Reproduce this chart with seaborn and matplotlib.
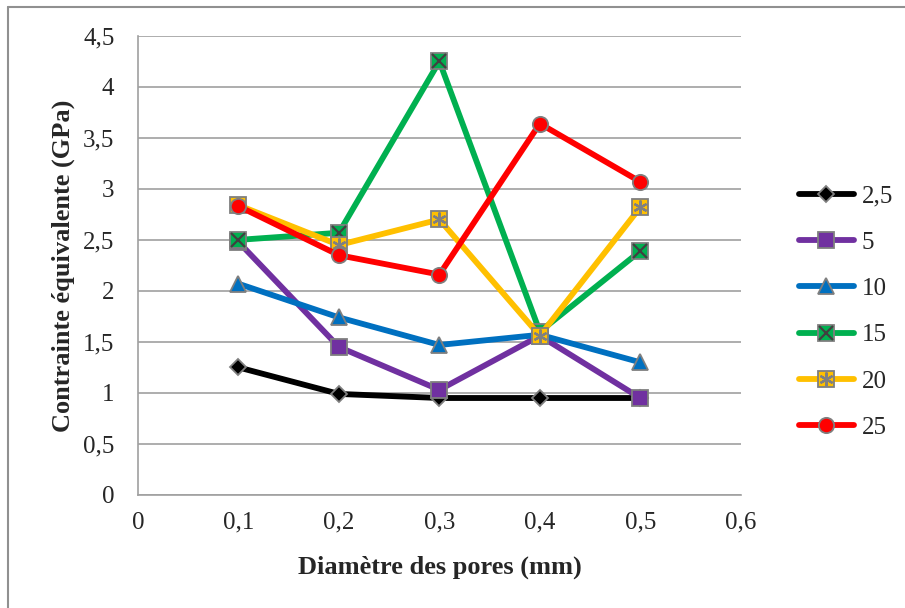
import numpy as np
import pandas as pd
import seaborn as sns
import matplotlib
matplotlib.use("Agg")
import matplotlib.pyplot as plt
from matplotlib.lines import Line2D
from matplotlib.legend_handler import HandlerTuple
from matplotlib.ticker import FuncFormatter

# diametre des pores (mm)
diam = [0.1, 0.2, 0.3, 0.4, 0.5]
series_names = ["2,5", "5", "10", "15", "20", "25"]
s_2_5 = [1.25, 0.99, 0.95, 0.95, 0.95]
s_5 = [2.48, 1.45, 1.03, 1.56, 0.95]
s_10 = [2.07, 1.74, 1.47, 1.57, 1.30]
s_15 = [2.50, 2.57, 4.25, 1.60, 2.39]
s_20 = [2.84, 2.45, 2.70, 1.56, 2.82]
s_25 = [2.83, 2.35, 2.16, 3.64, 3.07]
values = [s_2_5, s_5, s_10, s_15, s_20, s_25]

colors = ["#000000", "#7030A0", "#0070C0", "#00B050", "#FFC000", "#FF0000"]
markers = ["D", "s", "^", "s", "s", "o"]
msizes = [8, 11, 11, 12, 12, 11]
overlay = [None, None, None, "x", (6, 2, 0), None]
ov_color = [None, None, None, "#404040", "#808080", None]

sns.set_style("white")
plt.rcParams["font.family"] = ["Liberation Serif", "DejaVu Serif"]

fig = plt.figure(figsize=(9.05, 6.08), dpi=100)
ax = fig.add_axes([0.1525, 0.186, 0.666, 0.755])

handles = []
for name, vals, c, m, ms, ov, oc in zip(series_names, values, colors, markers, msizes, overlay, ov_color):
    df = pd.DataFrame({"x": diam, "y": vals})
    sns.lineplot(data=df, x="x", y="y", ax=ax, color=c, linewidth=4.2,
                 marker=m, markersize=ms, markeredgecolor="#7f7f7f",
                 markeredgewidth=1.3, solid_capstyle="round")
    ln = ax.lines[-1]
    h = [ln]
    if ov is not None:
        ax.plot(diam, vals, linestyle="none", marker=ov, markersize=10,
                markeredgecolor=oc, markeredgewidth=1.6, color=oc)
        h.append(ax.lines[-1])
    handles.append(tuple(h))

ax.set_xlim(0, 0.6)
ax.set_ylim(0, 4.5)
ax.set_xticks(np.arange(0, 0.61, 0.1))
ax.set_yticks(np.arange(0, 4.51, 0.5))
fmt = FuncFormatter(lambda v, p: ("%g" % round(v, 2)).replace(".", ","))
ax.xaxis.set_major_formatter(fmt)
ax.yaxis.set_major_formatter(fmt)
ax.tick_params(labelsize=18, length=0, pad=12)
ax.tick_params(axis="y", pad=17)
ax.grid(axis="y", color="#a0a0a0", linewidth=1.2)
ax.set_axisbelow(True)
for s in ["top", "right"]:
    ax.spines[s].set_visible(False)
for s in ["bottom", "left"]:
    ax.spines[s].set_color("#a0a0a0")
    ax.spines[s].set_linewidth(1.2)

ax.set_xlabel("Diamètre des pores (mm)", fontsize=19, fontweight="bold", labelpad=16)
ax.set_ylabel("Contrainte équivalente (GPa)", fontsize=19, fontweight="bold", labelpad=6)

fig.legend(handles, series_names, loc="center left", bbox_to_anchor=(0.858, 0.487),
           frameon=False, fontsize=18, handlelength=2.2, labelspacing=0.95,
           handletextpad=0.3, handler_map={tuple: HandlerTuple(ndivide=1, pad=0)})

# outer chart frame (only top and left edges visible)
W, H = 905, 608
fig.add_artist(Line2D([8 / W, 8 / W], [0, 1 - 7 / H], transform=fig.transFigure,
                      color="#909090", linewidth=1.5))
fig.add_artist(Line2D([8 / W, 1], [1 - 7 / H, 1 - 7 / H], transform=fig.transFigure,
                      color="#909090", linewidth=1.5))

fig.savefig("out.png", dpi=100)
